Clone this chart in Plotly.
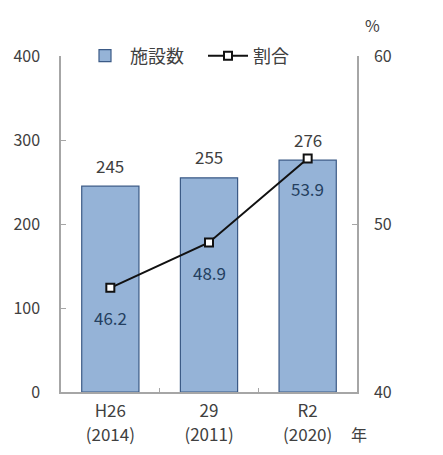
import plotly.graph_objects as go

categories = ["H26<br>(2014)", "29<br>(2011)", "R2<br>(2020)"]
facilities = [245, 255, 276]
ratio = [46.2, 48.9, 53.9]

FONT = "Noto Sans CJK JP"
OFF = 8  # page body margin
W, H = 443, 455
# desired plot area in screen pixels
PX0, PX1, PY0, PY1 = 61, 357, 56, 392
L, T = PX0 - OFF, PY0 - OFF
R, B = W - (PX1 - OFF), H - (PY1 - OFF)
plot_w = PX1 - PX0
plot_h = PY1 - PY0


def px(x):
    return (x - PX0) / plot_w


def py(y):
    return (PY1 - y) / plot_h


def tick_html(s):
    return "<br>".join(f"<span style='font-size:17px'>{p}</span>" for p in s.split("<br>"))


fig = go.Figure()
fig.add_trace(go.Bar(
    x=categories, y=facilities, name="施設数",
    marker=dict(color="#95b3d7", line=dict(color="#3b5a86", width=1.2)),
    width=0.58, yaxis="y",
))
fig.add_trace(go.Scatter(
    x=categories, y=ratio, name="割合", yaxis="y2", mode="lines+markers",
    line=dict(color="#111111", width=2),
    marker=dict(symbol="square", size=8, color="white", line=dict(color="#111111", width=2)),
))

annotations = []
for c, v in zip(categories, facilities):
    annotations.append(dict(x=c, y=v, xref="x", yref="y", text=str(v), showarrow=False,
                            yshift=21, font=dict(size=17, color="#404040", family=FONT)))
for c, v in zip(categories, ratio):
    annotations.append(dict(x=c, y=v, xref="x", yref="y2", text=f"{v:.1f}", showarrow=False,
                            yshift=-30, font=dict(size=17, color="#243f60", family=FONT)))

axis_font = dict(size=16, color="#404040", family=FONT)
annotations.append(dict(text="%", xref="paper", yref="paper", x=px(373), y=py(25),
                        xanchor="center", yanchor="middle", showarrow=False, font=axis_font))
annotations.append(dict(text="年", xref="paper", yref="paper", x=px(359), y=py(434),
                        xanchor="center", yanchor="middle", showarrow=False, font=axis_font))

fig.update_layout(
    width=W, height=H,
    margin=dict(l=L, r=R, t=T, b=B, autoexpand=False),
    paper_bgcolor="white", plot_bgcolor="white",
    font=dict(family=FONT, size=16, color="#404040"),
    showlegend=True,
    legend=dict(orientation="h", x=px(80), y=1.0, xanchor="left", yanchor="middle",
                bgcolor="rgba(255,255,255,0)", font=dict(size=18, color="#404040"),
                itemwidth=40, entrywidth=68, entrywidthmode="pixels", tracegroupgap=0),
    xaxis=dict(showline=True, linecolor="#a6a6a6", linewidth=1.5, ticks="inside",
               tickson="boundaries", ticklen=4, tickcolor="#a6a6a6",
               tickfont=dict(size=19, color="#404040", family=FONT), showgrid=False,
               tickmode="array", tickvals=categories,
               ticktext=[tick_html(c) for c in categories]),
    yaxis=dict(range=[0, 400], dtick=100, showline=True, linecolor="#a6a6a6", linewidth=1.5,
               ticks="inside", ticklen=5, tickcolor="#a6a6a6", showgrid=False,
               tickfont=axis_font, zeroline=False, ticklabelstandoff=16),
    yaxis2=dict(range=[40, 60], dtick=10, overlaying="y", side="right", showline=True,
                linecolor="#a6a6a6", linewidth=1.5, ticks="inside", ticklen=5,
                tickcolor="#a6a6a6", showgrid=False, tickfont=axis_font, zeroline=False,
                ticklabelstandoff=12),
    annotations=annotations,
)

fig.write_html("out.html")
